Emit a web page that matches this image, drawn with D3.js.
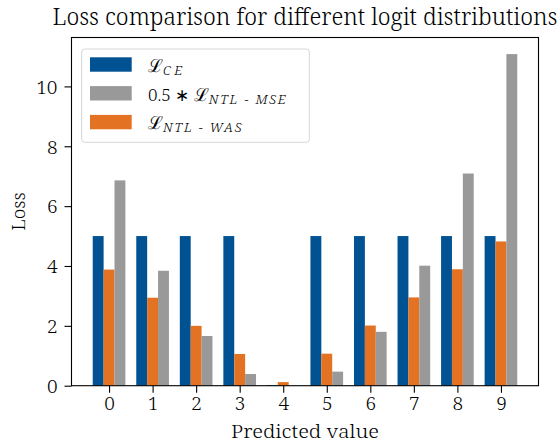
<!DOCTYPE html>
<html>
<head>
<meta charset="utf-8">
<script src="https://cdn.jsdelivr.net/npm/d3@7"></script>
<style>
  body { margin: 0; background: #fff; }
  svg { display: block; }
</style>
</head>
<body>
<div id="chart"></div>
<script>
// --- datos -----------------------------------------------------------------
const categories = [0, 1, 2, 3, 4, 5, 6, 7, 8, 9];
const lossCE     = [5, 5, 5, 5, 0.02, 5, 5, 5, 5, 5];
const lossWAS    = [3.88, 2.94, 2.00, 1.06, 0.12, 1.07, 2.01, 2.95, 3.89, 4.82];
const lossMSE    = [6.86, 3.84, 1.66, 0.39, 0, 0.47, 1.80, 4.01, 7.09, 11.08]; // ya * 0.5
const yTicks     = [0, 2, 4, 6, 8, 10];

const W = 560, H = 444;
const M = { left: 71.5, right: 538.5, top: 37.5, bottom: 385.7 };
const BAR_W = 0.25;
const SERIF = '"Noto Serif", "Liberation Serif", serif';

const svg = d3.select('#chart').append('svg')
  .attr('width', W).attr('height', H);

// escalas (márgenes tipo matplotlib: 5 % en x, 5 % arriba en y)
const x0 = -1.5 * BAR_W, x1 = 9 + 1.5 * BAR_W, pad = (x1 - x0) * 0.05;
const x = d3.scaleLinear().domain([x0 - pad, x1 + pad]).range([M.left, M.right]);
const yMax = d3.max([...lossCE, ...lossWAS, ...lossMSE]) * 1.05;
const y = d3.scaleLinear().domain([0, yMax]).range([M.bottom, M.top]);
const bw = x(BAR_W) - x(0);

// series en orden de dibujo: azul, naranja, gris
const series = [
  { key: 'ce',  vals: lossCE,  color: '#005293', off: -BAR_W },
  { key: 'was', vals: lossWAS, color: '#E37222', off: 0 },
  { key: 'mse', vals: lossMSE, color: '#999999', off: BAR_W }
];

const barsG = svg.append('g');
series.forEach(s => {
  barsG.append('g').selectAll('rect')
    .data(categories.map((c, i) => ({ c, v: s.vals[i] })))
    .join('rect')
      .attr('x', d => x(d.c + s.off) - bw / 2)
      .attr('width', bw)
      .attr('y', d => y(d.v))
      .attr('height', d => y(0) - y(d.v))
      .attr('fill', s.color);
});

// ejes
const xAxis = svg.append('g')
  .attr('transform', `translate(0,${M.bottom})`)
  .call(d3.axisBottom(x).tickValues(categories).tickFormat(d3.format('d')).tickSize(7));
const yAxis = svg.append('g')
  .attr('transform', `translate(${M.left},0)`)
  .call(d3.axisLeft(y).tickValues(yTicks).tickSize(7));

[xAxis, yAxis].forEach(a => {
  a.select('.domain').remove();
  a.selectAll('.tick line').attr('stroke', '#000').attr('stroke-width', 1.1);
  a.selectAll('.tick text')
    .style('font-family', SERIF).style('font-size', '19px').style('font-weight', 300)
    .attr('fill', '#000');
});
xAxis.selectAll('.tick text').attr('y', 24).attr('dy', null);
yAxis.selectAll('.tick text').attr('x', -14).attr('dy', '0.36em');

// marco
svg.append('rect')
  .attr('x', M.left).attr('y', M.top)
  .attr('width', M.right - M.left).attr('height', M.bottom - M.top)
  .attr('fill', 'none').attr('stroke', '#000').attr('stroke-width', 1.1);

// textos
function label(txt, size, len) {
  const t = svg.append('text')
    .attr('text-anchor', 'middle')
    .style('font-family', SERIF).style('font-size', size).style('font-weight', 300)
    .text(txt);
  if (len) t.attr('textLength', len).attr('lengthAdjust', 'spacingAndGlyphs');
  return t;
}
label('Loss comparison for different logit distributions', '23px', 505)
  .attr('x', (M.left + M.right) / 2).attr('y', 25);
label('Predicted value', '18px', 148)
  .attr('x', (M.left + M.right) / 2).attr('y', 438);
label('Loss', '19px')
  .attr('transform', `translate(25,${(M.top + M.bottom) / 2}) rotate(-90)`);

// leyenda
const legend = [
  { pre: '',        sub: 'CE',        color: '#005293', ls: 3.5 },
  { pre: '0.5 ∗ ',  sub: 'NTL − MSE', color: '#999999', ls: 1.8 },
  { pre: '',        sub: 'NTL − WAS', color: '#E37222', ls: 1.8 }
];
const lg = svg.append('g');
lg.append('rect')
  .attr('x', 81.7).attr('y', 49).attr('width', 227.6).attr('height', 93.3)
  .attr('rx', 3).attr('fill', '#fff').attr('fill-opacity', 0.8)
  .attr('stroke', '#d6d6d6').attr('stroke-width', 1);

legend.forEach((d, i) => {
  const yy = 57.3 + i * 28.8;
  lg.append('rect')
    .attr('x', 90).attr('y', yy).attr('width', 41.7).attr('height', 14.4)
    .attr('fill', d.color);
  const t = lg.append('text').attr('x', 148).attr('y', yy + 14.5)
    .style('font-family', SERIF).style('font-size', '17px').style('font-weight', 300);
  if (d.pre) t.append('tspan').text(d.pre);
  t.append('tspan').style('font-family', '"DejaVu Serif", serif').style('font-size', '18px').text('ℒ');
  t.append('tspan').style('font-style', 'italic').style('font-size', '13px').attr('dy', 3)
    .attr('letter-spacing', `${d.ls}px`).text(d.sub);
});
</script>
</body>
</html>
